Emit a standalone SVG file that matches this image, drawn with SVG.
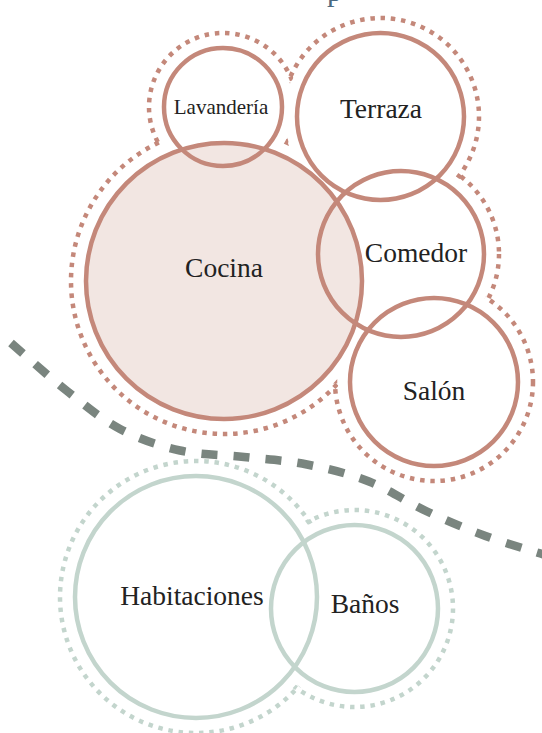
<svg xmlns="http://www.w3.org/2000/svg" width="542" height="733" viewBox="0 0 542 733">
<style>
.warm{fill:none;stroke:#c4887a;stroke-width:4.5}
.green{fill:none;stroke:#c3d5cd;stroke-width:4.5}
.dw{fill:none;stroke:#c4887a;stroke-width:4.5;stroke-dasharray:4.5 5.8}
.dg{fill:none;stroke:#c3d5cd;stroke-width:4.5;stroke-dasharray:4.5 5.8}
.mask{fill:#ffffff;stroke:none}
.lbl{font-family:"Liberation Serif","Times New Roman",serif;font-size:27.5px;fill:#222222;text-anchor:middle}
.small{font-size:21px}
</style>
<rect width="542" height="733" fill="#ffffff"/>
<text x="327" y="0.5" style="font-family:'Liberation Serif',serif;font-size:30px;fill:#4b6a80">p</text>
<g id="zone-social">
<circle class="dw" cx="223" cy="107" r="74"/>
<circle class="dw" cx="380.5" cy="116.5" r="98.5"/>
<circle class="dw" cx="401" cy="254" r="98"/>
<circle class="dw" cx="434" cy="382" r="99"/>
<circle class="dw" cx="224" cy="281" r="153"/>
<circle class="mask" cx="223" cy="107" r="71"/>
<circle class="mask" cx="380.5" cy="116.5" r="95.5"/>
<circle class="mask" cx="401" cy="254" r="95"/>
<circle class="mask" cx="434" cy="382" r="96"/>
<circle class="mask" cx="224" cy="281" r="150"/>
</g>
<g id="zone-private">
<circle class="dg" cx="196" cy="597" r="136"/>
<circle class="dg" cx="354.5" cy="608.5" r="98.5"/>
<circle class="mask" cx="196" cy="597" r="133"/>
<circle class="mask" cx="354.5" cy="608.5" r="95.5"/>
</g>
<g id="cocina">
<circle cx="224" cy="281" r="138" fill="#f2e6e2" stroke="#c4887a" stroke-width="4.5"/>
<text class="lbl" x="224" y="277">Cocina</text>
</g>
<g id="lavanderia">
<circle class="warm" cx="223" cy="107" r="59"/>
<text class="lbl small" x="221" y="114">Lavandería</text>
</g>
<g id="terraza">
<circle class="warm" cx="380.5" cy="116.5" r="83.5"/>
<text class="lbl" x="381" y="117.5">Terraza</text>
</g>
<g id="comedor">
<circle class="warm" cx="401" cy="254" r="83"/>
<text class="lbl" x="416" y="262">Comedor</text>
</g>
<g id="salon">
<circle class="warm" cx="434" cy="382" r="84"/>
<text class="lbl" x="434" y="400">Salón</text>
</g>
<g id="habitaciones">
<circle class="green" cx="196" cy="597" r="121"/>
<text class="lbl" x="192" y="605">Habitaciones</text>
</g>
<g id="banos">
<circle class="green" cx="354.5" cy="608.5" r="83.5"/>
<text class="lbl" x="365" y="612.5">Baños</text>
</g>
<g id="connectors">
<path d="M 11 343 C 20.3 351, 48.8 376.7, 67 391 C 85.2 405.3, 101.2 419.1, 120 429 C 138.8 438.9, 159.3 445.8, 180 450.5 C 200.7 455.2, 222.8 454.7, 244 457 C 265.2 459.3, 286.2 460.4, 307 464.5 C 327.8 468.6, 349.2 473.8, 369 481.5 C 388.8 489.3, 406.6 501.9, 426 511 C 445.4 520.1, 465.7 528.7, 485.5 536 C 505.3 543.3, 535.1 551.8, 545 555" fill="none" stroke="#7a857f" stroke-width="8.5" stroke-dasharray="16 16.1"/>
</g>
</svg>
